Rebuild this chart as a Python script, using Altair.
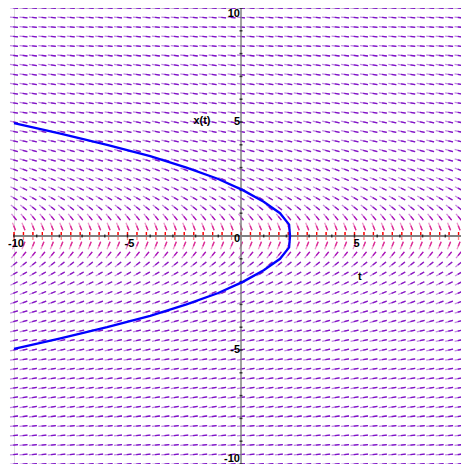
import altair as alt
import numpy as np
import pandas as pd

# ---- data -------------------------------------------------------------
# direction field grid (t columns, x rows), ODE dx/dt = -1/x
grid_t = [round(-10 + i * 20 / 48, 4) for i in range(49)]
grid_x = [round(-10 + j * 20 / 48, 4) for j in range(49)]

# solution curve
curve_x = [-4.95, -4.5, -4.0, -3.5, -3.0, -2.5, -2.0, -1.5, -1.0, -0.5, 0.0,
           0.5, 1.0, 1.5, 2.0, 2.5, 3.0, 3.5, 4.0, 4.5, 4.95]
curve_t = [-10.0, -8.0, -5.9, -4.0, -2.4, -1.0, 0.1, 1.0, 1.72, 2.12, 2.16,
           2.12, 1.72, 1.0, 0.1, -1.0, -2.4, -4.0, -5.9, -8.0, -10.0]

# axis labels
xtick_vals = [-10, -5, 5]
xtick_text = ["-10", "-5", "5"]
ytick_vals = [5, -5]
ytick_text = ["5", "-5"]
minor_ticks = [v for v in range(-10, 11) if v != 0]

# ---- geometry ---------------------------------------------------------
PX = 454 / 20.0          # pixels per t unit
H = 456
PY = H / 20.0            # pixels per x unit
W = 447
TMAX = -10 + W / PX      # visible right end of t axis
L = 8.0                  # arrow length in pixels

rows = []
for xv in grid_x:
    if abs(xv) < 1e-9:
        dxp, dyp = 0.0, 1.0
    else:
        m = -1.0 / xv
        dxp, dyp = PX * 1.0, PY * m
        n = np.hypot(dxp, dyp)
        dxp, dyp = dxp / n, dyp / n
    ang = float(np.degrees(np.arctan2(abs(dyp), abs(dxp))))
    for tv in grid_t:
        t0 = tv - dxp * L / 2 / PX
        x0 = xv - dyp * L / 2 / PY
        t1 = tv + dxp * L / 2 / PX
        x1 = xv + dyp * L / 2 / PY
        tm = tv - dxp * L * 0.1 / PX
        xm = xv - dyp * L * 0.1 / PY
        rows.append(dict(t0=t0, x0=x0, t1=t1, x1=x1, tm=tm, xm=xm, ang=ang))
field = pd.DataFrame(rows)

xs = alt.Scale(domain=[-10, TMAX], nice=False, zero=False)
ys = alt.Scale(domain=[-10, 10], nice=False, zero=False)

col_scale = alt.Scale(domain=[0, 45, 70, 90],
                      range=["#7a10c8", "#9018c0", "#e03090", "#ff0000"])

tail = alt.Chart(field).mark_rule(strokeWidth=1.3, opacity=0.5).encode(
    x=alt.X("t0:Q", scale=xs, axis=None),
    y=alt.Y("x0:Q", scale=ys, axis=None),
    x2="t1:Q", y2="x1:Q",
    color=alt.Color("ang:Q", scale=col_scale, legend=None),
)
head = alt.Chart(field).mark_rule(strokeWidth=1.3, opacity=1.0).encode(
    x=alt.X("tm:Q", scale=xs, axis=None),
    y=alt.Y("xm:Q", scale=ys, axis=None),
    x2="t1:Q", y2="x1:Q",
    color=alt.Color("ang:Q", scale=col_scale, legend=None),
)

axes_df = pd.DataFrame({"a": [-10], "b": [10], "z": [0]})
haxis = alt.Chart(pd.DataFrame({"a": [-10], "b": [TMAX], "z": [0]})).mark_rule(
    color="#808080", strokeWidth=2).encode(
    x=alt.X("a:Q", scale=xs), x2="b:Q", y=alt.Y("z:Q", scale=ys))
vaxis = alt.Chart(axes_df).mark_rule(color="#808080", strokeWidth=1.5).encode(
    y=alt.Y("a:Q", scale=ys), y2="b:Q", x=alt.X("z:Q", scale=xs))

mt = pd.DataFrame({"v": minor_ticks, "z": [0] * len(minor_ticks)})
hticks = alt.Chart(mt[mt.v < TMAX]).mark_tick(color="black", size=3, thickness=1.5, orient="vertical").encode(
    x=alt.X("v:Q", scale=xs), y=alt.Y("z:Q", scale=ys))
vticks = alt.Chart(mt).mark_tick(color="black", size=3, thickness=1.5, orient="horizontal").encode(
    y=alt.Y("v:Q", scale=ys), x=alt.X("z:Q", scale=xs))

curve = alt.Chart(pd.DataFrame({"t": curve_t, "x": curve_x, "i": range(len(curve_x))})).mark_line(
    color="#0000ff", strokeWidth=2.3).encode(
    x=alt.X("t:Q", scale=xs), y=alt.Y("x:Q", scale=ys), order="i:Q")

font = dict(font="Liberation Sans", fontWeight="bold", fontSize=11, color="black")

xl = pd.DataFrame({"v": xtick_vals, "s": xtick_text, "z": [0] * 3})
xlab = alt.Chart(xl).mark_text(dy=8, baseline="middle", align="center", dx=2, **font).encode(
    x=alt.X("v:Q", scale=xs), y=alt.Y("z:Q", scale=ys), text="s:N")
zl = pd.DataFrame({"v": [0], "s": ["0"], "z": [0]})
zlab = alt.Chart(zl).mark_text(dy=3, dx=-1, baseline="middle", align="right", **font).encode(
    x=alt.X("v:Q", scale=xs), y=alt.Y("z:Q", scale=ys), text="s:N")
yl = pd.DataFrame({"v": ytick_vals, "s": ytick_text, "z": [0] * 2})
ylab = alt.Chart(yl).mark_text(dx=-1, baseline="middle", align="right", **font).encode(
    y=alt.Y("v:Q", scale=ys), x=alt.X("z:Q", scale=xs), text="s:N")
topl = pd.DataFrame({"v": [10], "s": ["10"], "z": [0]})
toplab = alt.Chart(topl).mark_text(dx=-1, baseline="top", align="right", **font).encode(
    y=alt.Y("v:Q", scale=ys), x=alt.X("z:Q", scale=xs), text="s:N")
botl = pd.DataFrame({"v": [-10], "s": ["-10"], "z": [0]})
botlab = alt.Chart(botl).mark_text(dx=-1, baseline="bottom", align="right", **font).encode(
    y=alt.Y("v:Q", scale=ys), x=alt.X("z:Q", scale=xs), text="s:N")

tl = pd.DataFrame({"t": [5.24, -1.72], "x": [-1.8, 5.04], "s": ["t", "x(t)"]})
titles = alt.Chart(tl).mark_text(baseline="middle", align="center", **font).encode(
    x=alt.X("t:Q", scale=xs), y=alt.Y("x:Q", scale=ys), text="s:N")

chart = alt.layer(tail, head, haxis, vaxis, hticks, vticks, curve, xlab, zlab, ylab, toplab, botlab, titles).properties(
    width=W, height=H,
    padding={"left": 6, "top": 0, "right": 0, "bottom": 0},
    autosize=alt.AutoSizeParams(type="none"),
).configure_view(stroke=None).configure(background="white")

chart.save("out.html", embed_options={"renderer": "svg", "actions": False})
